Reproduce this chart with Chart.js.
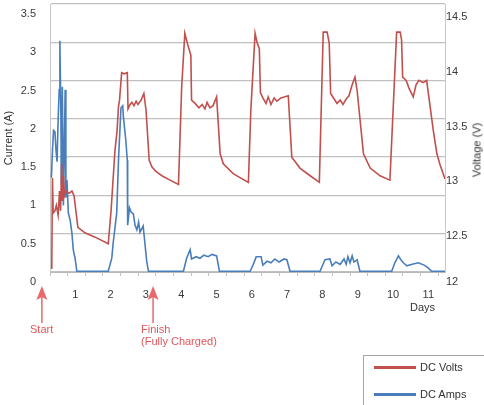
<!DOCTYPE html>
<html lang="en">
<head>
    <meta charset="UTF-8">
    <title>DC Volts and DC Amps</title>
    <script src="https://cdn.jsdelivr.net/npm/chart.js"></script>
    <style>
        body { margin: 0; background: #fff; font-family: "Liberation Sans", Arial, sans-serif; }
        .wrap { position: relative; width: 484px; height: 405px; overflow: hidden; }
        #chart { position: absolute; left: 0; top: 0; }
        .note { position: absolute; font-size: 11px; line-height: 13px; white-space: nowrap; }
        .red { color: #e0575b; }
        .dark { color: #333; }
        #voltTitle { left: 477px; top: 150px; transform: translate(-50%, -50%) rotate(-90deg); }
        .legend { position: absolute; left: 363px; top: 355px; width: 140px; height: 70px;
                  border: 1px solid #a6a6a6; background: #fff; }
        .legend .row { position: absolute; left: 0; height: 14px; font-size: 11px; line-height: 14px; color: #333; }
        .legend .swatch { position: absolute; left: 10px; top: 6px; width: 42px; height: 3px; }
        .legend .label { position: absolute; left: 56px; top: 0; white-space: nowrap; }
    </style>
</head>
<body>
<div class="wrap">
    <canvas id="chart" width="484" height="405"></canvas>
    <div class="note dark" id="voltTitle">Voltage (V)</div>
    <div class="note dark" style="left:410px; top:301px;">Days</div>
    <div class="note red" style="left:30px; top:323px;">Start</div>
    <div class="note red" style="left:141px; top:323px;">Finish</div>
    <div class="note red" style="left:141px; top:335px;">(Fully Charged)</div>
    <div class="legend">
        <div class="row" style="top:4px;"><span class="swatch" style="background:#c0504d"></span><span class="label">DC Volts</span></div>
        <div class="row" style="top:31px;"><span class="swatch" style="background:#4a7ebb"></span><span class="label">DC Amps</span></div>
    </div>
</div>

<script>
    // DC Volts (right axis)
    const voltDays = [0.05, 0.07, 0.09, 0.14, 0.18, 0.23, 0.27, 0.30, 0.33, 0.35,
        0.38, 0.41, 0.45, 0.54, 0.62, 0.68, 0.79, 0.99, 1.28, 1.65,
        1.73, 1.84, 1.90, 1.94, 1.97, 2.03, 2.10, 2.19, 2.21, 2.27,
        2.32, 2.38, 2.44, 2.49, 2.58, 2.66, 2.72, 2.81, 2.89, 3.00,
        3.17, 3.40, 3.64, 3.73, 3.82, 3.89, 3.99, 4.01, 4.11, 4.22,
        4.31, 4.39, 4.45, 4.53, 4.62, 4.72, 4.82, 4.91, 5.19, 5.62,
        5.69, 5.81, 5.87, 5.93, 5.96, 6.03, 6.12, 6.18, 6.26, 6.35,
        6.43, 6.54, 6.66, 6.75, 6.85, 7.08, 7.37, 7.63, 7.74, 7.85,
        7.91, 7.95, 8.05, 8.13, 8.22, 8.30, 8.39, 8.47, 8.56, 8.64,
        8.70, 8.88, 9.07, 9.35, 9.63, 9.82, 9.92, 9.96, 9.99, 10.09,
        10.17, 10.29, 10.37, 10.45, 10.57, 10.67, 10.86, 10.96, 11.05, 11.19];
    const voltValues = [12.11, 12.94, 12.62, 12.64, 12.69, 12.60, 12.82, 12.64, 13.07, 12.73,
        12.96, 12.78, 12.82, 12.80, 12.82, 12.78, 12.49, 12.44, 12.40, 12.34,
        12.64, 13.19, 13.37, 13.59, 13.65, 13.90, 13.89, 13.90, 13.57, 13.61,
        13.63, 13.60, 13.64, 13.61, 13.65, 13.71, 13.56, 13.10, 13.04, 13.00,
        12.96, 12.92, 12.88, 13.77, 14.26, 14.17, 14.06, 13.65, 13.62, 13.58,
        13.61, 13.57, 13.63, 13.58, 13.60, 13.68, 13.16, 13.07, 12.98, 12.90,
        13.56, 14.26, 14.17, 14.12, 13.72, 13.67, 13.62, 13.68, 13.61, 13.67,
        13.64, 13.67, 13.68, 13.69, 13.13, 13.03, 12.96, 12.90, 14.27, 14.27,
        14.17, 13.71, 13.66, 13.62, 13.65, 13.61, 13.66, 13.69, 13.79, 13.86,
        13.74, 13.16, 13.03, 12.96, 12.92, 14.27, 14.27, 14.20, 13.86, 13.83,
        13.76, 13.68, 13.79, 13.83, 13.81, 13.83, 13.37, 13.16, 13.06, 12.93];

    // DC Amps (left axis)
    const ampDays = [0.04, 0.07, 0.10, 0.14, 0.17, 0.20, 0.23, 0.26, 0.28, 0.31,
        0.32, 0.35, 0.38, 0.40, 0.43, 0.45, 0.48, 0.52, 0.57, 0.62,
        0.66, 0.71, 0.76, 1.65, 1.75, 1.79, 1.89, 1.94, 2.01, 2.06,
        2.08, 2.14, 2.19, 2.20, 2.25, 2.30, 2.36, 2.41, 2.46, 2.51,
        2.55, 2.64, 2.67, 2.74, 2.79, 3.78, 3.87, 3.97, 4.01, 4.14,
        4.25, 4.36, 4.48, 4.59, 4.72, 4.80, 5.67, 5.76, 5.84, 5.98,
        6.03, 6.15, 6.26, 6.37, 6.49, 6.63, 6.71, 6.80, 7.65, 7.79,
        7.93, 7.99, 8.10, 8.22, 8.33, 8.39, 8.44, 8.50, 8.56, 8.61,
        8.70, 8.78, 9.68, 9.77, 9.87, 9.94, 10.01, 10.11, 10.26, 10.43,
        10.60, 10.72, 10.81, 11.19];
    const ampValues = [1.23, 1.59, 1.85, 1.83, 1.59, 1.44, 1.98, 2.38, 3.02, 1.98,
        1.14, 2.42, 0.87, 1.46, 2.38, 0.97, 1.20, 0.77, 0.68, 0.51,
        0.29, 0.18, 0.01, 0.01, 0.18, 0.38, 0.77, 1.46, 2.14, 2.17,
        2.02, 1.76, 1.46, 0.61, 0.84, 0.78, 0.76, 0.61, 0.55, 0.65,
        0.52, 0.60, 0.46, 0.14, 0.01, 0.01, 0.18, 0.29, 0.17, 0.20,
        0.18, 0.22, 0.20, 0.23, 0.21, 0.01, 0.01, 0.10, 0.20, 0.20,
        0.09, 0.14, 0.12, 0.17, 0.13, 0.17, 0.16, 0.01, 0.01, 0.16,
        0.17, 0.08, 0.13, 0.10, 0.17, 0.10, 0.20, 0.12, 0.21, 0.13,
        0.16, 0.01, 0.01, 0.12, 0.21, 0.16, 0.12, 0.08, 0.10, 0.12,
        0.09, 0.05, 0.01, 0.01];

    // tick labels
    const dayTicks = [1, 2, 3, 4, 5, 6, 7, 8, 9, 10, 11];
    const currentTicks = [0, 0.5, 1, 1.5, 2, 2.5, 3, 3.5];
    const voltTicks = [12, 12.5, 13, 13.5, 14, 14.5];

    // start / finish markers (days)
    const markDays = [-0.23, 2.92];

    const VMIN = 12.082, VMAX = 14.527;

    Chart.defaults.font.family = '"Liberation Sans", Arial, sans-serif';
    Chart.defaults.font.size = 11;
    Chart.defaults.color = '#3a3a3a';

    const arrows = {
        id: 'arrows',
        afterDraw(chart) {
            const ctx = chart.ctx;
            ctx.save();
            ctx.strokeStyle = '#e8686c';
            ctx.fillStyle = '#e8686c';
            ctx.lineWidth = 1.5;
            markDays.forEach(d => {
                const x = chart.scales.x.getPixelForValue(d);
                ctx.beginPath(); ctx.moveTo(x, 296); ctx.lineTo(x, 323); ctx.stroke();
                ctx.beginPath();
                ctx.moveTo(x, 286); ctx.lineTo(x + 5.5, 300); ctx.lineTo(x, 297); ctx.lineTo(x - 5.5, 300);
                ctx.closePath(); ctx.fill();
            });
            ctx.restore();
        }
    };

    function noPad(scale) {
        scale.paddingTop = 0; scale.paddingBottom = 0;
        scale.paddingLeft = 0; scale.paddingRight = 0;
    }

    new Chart(document.getElementById('chart'), {
        type: 'line',
        data: {
            datasets: [{
                label: 'DC Volts',
                data: voltDays.map((d, i) => ({ x: d, y: voltValues[i] })),
                yAxisID: 'yV',
                borderColor: '#c0504d',
                borderWidth: 1.6,
                pointRadius: 0,
                tension: 0
            }, {
                label: 'DC Amps',
                data: ampDays.map((d, i) => ({ x: d, y: ampValues[i] })),
                yAxisID: 'yA',
                borderColor: '#4a7ebb',
                borderWidth: 1.6,
                pointRadius: 0,
                tension: 0
            }]
        },
        options: {
            responsive: false,
            animation: false,
            layout: { padding: { top: 4, left: 0, right: 0, bottom: 0 } },
            plugins: { legend: { display: false }, tooltip: { enabled: false } },
            scales: {
                x: {
                    type: 'linear',
                    min: 0,
                    max: 11.19,
                    grid: { drawOnChartArea: false, color: '#c4c4c4', tickLength: 4 },
                    border: { color: '#b8b8b8' },
                    ticks: {
                        autoSkip: false,
                        maxRotation: 0,
                        padding: 12,
                        labelOffset: -10,
                        callback: v => dayTicks.includes(v) ? String(v) : ''
                    },
                    afterBuildTicks: s => {
                        const t = [];
                        for (let v = 0; v <= 11; v += 0.5) t.push({ value: v });
                        s.ticks = t;
                    },
                    afterFit: s => { s.height = 133; noPad(s); }
                },
                yA: {
                    type: 'linear',
                    position: 'left',
                    min: 0,
                    max: 3.5,
                    grid: { color: '#c0c0c0', lineWidth: 1.3, drawTicks: false },
                    border: { color: '#c8c8c8' },
                    ticks: { padding: 14, labelOffset: 10, callback: v => String(v) },
                    afterBuildTicks: s => { s.ticks = currentTicks.map(v => ({ value: v })); },
                    title: { display: true, text: 'Current (A)', color: '#333', padding: { top: 2, bottom: 0 } },
                    afterFit: s => { s.width = 50; noPad(s); }
                },
                yV: {
                    type: 'linear',
                    position: 'right',
                    min: VMIN,
                    max: VMAX,
                    grid: { display: false, drawTicks: false },
                    border: { display: true, color: '#c8c8c8' },
                    ticks: { padding: 1, labelOffset: 10, callback: (v, i) => String(voltTicks[i]) },
                    afterBuildTicks: s => { s.ticks = voltTicks.map(v => ({ value: Math.max(v, VMIN) })); },
                    afterFit: s => { s.width = 39; noPad(s); }
                }
            }
        },
        plugins: [arrows]
    });
</script>
</body>
</html>
